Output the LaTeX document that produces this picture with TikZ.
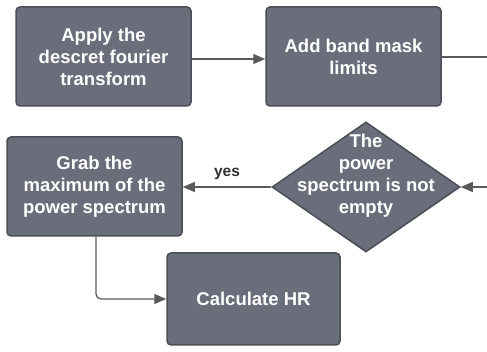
\documentclass[tikz,border=0pt]{standalone}
\usepackage{fontspec}
\setmainfont{Liberation Sans}
\usetikzlibrary{shapes.geometric,arrows.meta}
\definecolor{boxfill}{HTML}{6A6E7A}
\definecolor{boxedge}{HTML}{4B4E57}
\definecolor{wire}{HTML}{5A5A5A}
\definecolor{labeltext}{HTML}{2E2E2E}
\begin{document}
\begin{tikzpicture}[x=1pt,y=-1pt,
  stepbox/.style={draw=boxedge, line width=1.5pt, fill=boxfill, rounded corners=4pt,
    text=white, font=\bfseries\fontsize{18.5}{22}\selectfont, align=center,
    inner sep=0pt},
  decision/.style={draw=boxedge, line width=1.5pt, fill=boxfill, diamond,
    inner sep=0pt, minimum width=188pt, minimum height=130pt},
  decisiontext/.style={text=white, font=\bfseries\fontsize{18.5}{22}\selectfont, align=center},
  flow/.style={draw=wire, line width=1.3pt, -{Triangle[length=12pt,width=10pt]}},
  plain/.style={draw=wire, line width=1.3pt},
  edgelabel/.style={text=labeltext, font=\bfseries\fontsize{15.5}{18}\selectfont}]
\useasboundingbox (0,0) rectangle (487,352);

% process steps
\node[stepbox, minimum width=175pt, minimum height=99pt] (dft) at (103.5,56.5)
  {Apply the\\descret fourier\\transform};
\node[stepbox, minimum width=175pt, minimum height=99pt] (mask) at (353.5,56.5)
  {Add band mask\\limits};
\node[stepbox, minimum width=175pt, minimum height=99pt] (grab) at (94.5,186.5)
  {Grab the\\maximum of the\\power spectrum};
\node[stepbox, minimum width=173pt, minimum height=92pt] (hr) at (253.5,299)
  {Calculate HR};

% decision
\node[decision] (check) at (366,187) {};
\node[decisiontext] (checktext) at (366,176) {The\\power\\spectrum is not\\empty};

% connectors
\coordinate (outright) at (487,57);
\coordinate (inright) at (487,187);
\draw[flow] (dft.east |- 0,59) -- (mask.west |- 0,59);
\draw[plain] (mask.east |- outright) -- (outright);
\draw[flow] (inright) -- (check.east);
\draw[flow] (check.west) -- node[edgelabel, above, yshift=3pt] (yes) {yes} (grab.east |- check.west);
\draw[flow, rounded corners=5pt] (grab.south -| 96,0) |- (hr.west);
\end{tikzpicture}
\end{document}
